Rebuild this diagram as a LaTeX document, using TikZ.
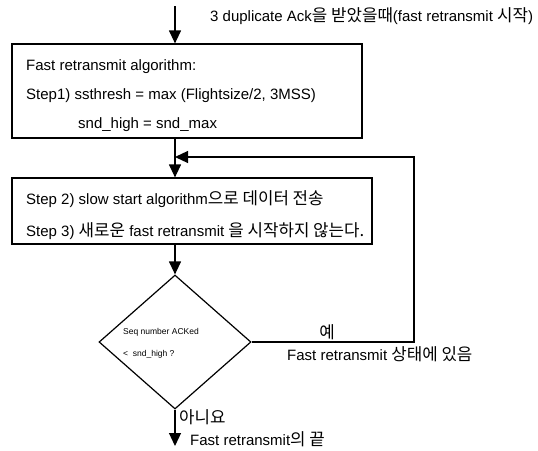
\documentclass[tikz,border=0pt]{standalone}
\usepackage{fontspec}
\setmainfont{Liberation Sans}
\newfontfamily\kr[Scale=1.12]{Noto Sans CJK KR}
\usetikzlibrary{arrows.meta,shapes.geometric}
\begin{document}
\begin{tikzpicture}[x=1pt,y=-1pt,
  box/.style={draw,line width=1.2pt,rectangle,inner sep=0pt},
  txt/.style={inner sep=0pt,anchor=base west,font=\fontsize{15}{17}\selectfont},
  small/.style={inner sep=0pt,anchor=base west,font=\fontsize{8.5}{10}\selectfont},
  arr/.style={line width=1.2pt,-{Triangle[length=13pt,width=12pt]}},
  conn/.style={line width=1.2pt}]
\useasboundingbox (0,0) rectangle (538,450);
\coordinate (col) at (175,0);
% boxes
\node[box,minimum width=350pt,minimum height=94pt] (box1) at (187,91) {};
\node[box,minimum width=360pt,minimum height=66pt] (box2) at (192,211) {};
\node[draw,line width=1.2pt,diamond,inner sep=0pt,minimum width=152pt,minimum height=134pt] (dia) at (175,342) {};
% texts
\node[txt] (top) at (210,21) {3 duplicate Ack{\kr 을 받았을때}(fast retransmit {\kr 시작})};
\node[txt] (b1a) at (26,70) {Fast retransmit algorithm:};
\node[txt] (b1b) at (26,99) {Step1) ssthresh = max (Flightsize/2, 3MSS)};
\node[txt] (b1c) at (78,128) {snd\_high = snd\_max};
\node[txt] (b2a) at (26,204) {Step 2) slow start algorithm{\kr 으로 데이터 전송}};
\node[txt] (b2b) at (26,236) {Step 3) {\kr 새로운} fast retransmit {\kr 을 시작하지 않는다.}};
\node[small] (d1) at (123,334) {Seq number ACKed};
\node[small] (d2) at (123,356) {<\ \ snd\_high ?};
\node[inner sep=0pt,font=\fontsize{15}{17}\selectfont\kr] (yes) at (327,332) {예};
\node[txt] (yes2) at (287,360) {Fast retransmit {\kr 상태에 있음}};
\node[txt] (no) at (179,423) {\kr 아니요};
\node[txt] (fin) at (190,445) {Fast retransmit{\kr 의 끝}};
% connectors
\coordinate (start) at (175,6);
\coordinate (fb) at (414,157);
\coordinate (stop) at (175,446);
\draw[arr] (start) -- (start |- box1.north);
\draw[arr] (box1.south -| col) -- (box2.north -| col);
\draw[arr] (box2.south -| col) -- (dia.north);
\draw[arr] (dia.east) -| (fb) -- (fb -| col);
\draw[arr] (dia.south) -- (stop);
\end{tikzpicture}
\end{document}
